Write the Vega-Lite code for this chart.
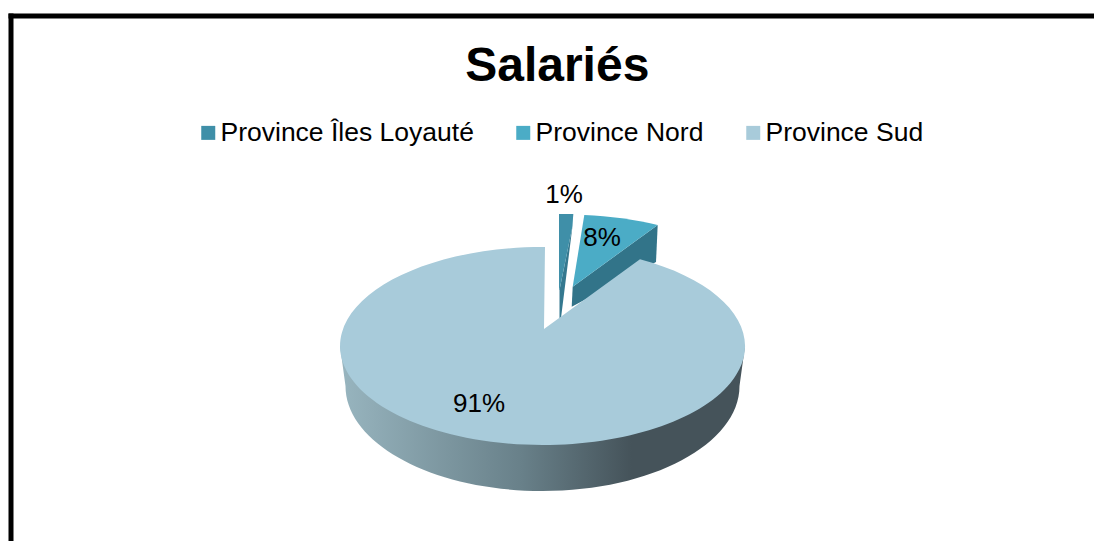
{
  "$schema": "https://vega.github.io/schema/vega-lite/v6.json",
  "width": 1083.5,
  "height": 525.5,
  "autosize": "none",
  "padding": {"left": 10.5, "top": 15.5, "right": 0, "bottom": 0},
  "background": "white",
  "view": {"stroke": null},
  "config": {"font": "Liberation Sans"},
  "title": {"text": "Salariés", "fontSize": 48, "fontWeight": "bold", "font": "Liberation Sans", "color": "#000000", "anchor": "middle", "dx": 5, "offset": -75, "frame": "group"},
  "data": {"values": [
    {"province": "Province Îles Loyauté", "share": 0.01},
    {"province": "Province Nord", "share": 0.08},
    {"province": "Province Sud", "share": 0.91}
  ]},
  "encoding": {
    "x": {"datum": 0.491, "type": "quantitative", "scale": {"domain": [0, 1], "nice": false, "zero": false},
      "axis": {"orient": "top", "labels": false, "ticks": false, "grid": false, "title": null, "domainColor": "#000000", "domainWidth": 5, "domainCap": "square"}},
    "y": {"datum": 0.6289, "type": "quantitative", "scale": {"domain": [1, 0], "nice": false, "zero": false},
      "axis": {"orient": "left", "labels": false, "ticks": false, "grid": false, "title": null, "domainColor": "#000000", "domainWidth": 5, "domainCap": "square"}}
  },
  "layer": [
    {
      "mark": {"type": "point", "filled": true, "opacity": 1, "size": 4, "shape": "square"},
      "encoding": {
        "color": {"field": "province", "type": "nominal",
          "scale": {"domain": ["Province Îles Loyauté", "Province Nord", "Province Sud"], "range": ["#3F8FA8", "#4BACC6", "#A8CBDA"]},
          "legend": {"orient": "none", "legendX": 184.5, "legendY": 104, "direction": "horizontal", "columns": 3, "title": null, "symbolType": "square", "symbolSize": 196, "symbolOpacity": 1, "labelFontSize": 26.5, "labelFont": "Liberation Sans", "labelColor": "#000000", "labelOffset": -1, "columnPadding": 36, "labelLimit": 400}}
      }
    },
    {
      "transform": [{"filter": "datum.province === 'Province Îles Loyauté'"}],
      "mark": {"type": "point", "filled": true, "opacity": 1, "size": 4, "color": "#34788F", "shape": "M30 -120 L17 -56 L17 -28 L18.5 -28 Z"}
    },
    {
      "transform": [{"filter": "datum.province === 'Province Îles Loyauté'"}],
      "mark": {"type": "point", "filled": true, "opacity": 1, "size": 4, "color": "#3F8FA8", "shape": "M16.5 -132 L30.8 -132 L30 -120 L17 -56 L16.5 -56 Z"}
    },
    {
      "transform": [{"filter": "datum.province === 'Province Nord'"}],
      "mark": {"type": "point", "filled": true, "opacity": 1, "size": 4, "color": "#327489", "shape": "M30.2 -59.3 L115.2 -121 L113.5 -84 L29.2 -39.3 Z"}
    },
    {
      "transform": [{"filter": "datum.province === 'Province Nord'"}],
      "mark": {"type": "point", "filled": true, "opacity": 1, "size": 4, "color": "#4BACC6", "shape": "M30.2 -59.3 L41.8 -131 A202.5 99 0 0 1 115.2 -121 Z"}
    },
    {
      "transform": [{"filter": "datum.province === 'Province Sud'"}],
      "mark": {"type": "point", "filled": true, "opacity": 1, "size": 4,
        "color": {"gradient": "linear", "x1": 0, "y1": 0, "x2": 1, "y2": 0, "stops": [
          {"offset": 0, "color": "#98B5BF"},
          {"offset": 0.45, "color": "#688089"},
          {"offset": 0.72, "color": "#45535A"},
          {"offset": 1, "color": "#45535A"}
        ]},
        "shape": "M-202.5 0 L-197 40 A197 105 0 0 0 197 40 L202.5 0 Z"}
    },
    {
      "transform": [{"filter": "datum.province === 'Province Sud'"}],
      "mark": {"type": "point", "filled": true, "opacity": 1, "size": 4, "color": "#A8CBDA", "shape": "M1.5 -17 L2.5 -98.98 A202.5 99 0 1 0 97.5 -86.77 Z"}
    },
    {
      "transform": [{"filter": "datum.province === 'Province Îles Loyauté'"}],
      "mark": {"type": "text", "fontSize": 26, "font": "Liberation Sans", "color": "#000000"},
      "encoding": {"text": {"field": "share", "format": ".0%"}, "x": {"datum": 0.5108, "type": "quantitative"}, "y": {"datum": 0.3416, "type": "quantitative"}}
    },
    {
      "transform": [{"filter": "datum.province === 'Province Nord'"}],
      "mark": {"type": "text", "fontSize": 26, "font": "Liberation Sans", "color": "#000000"},
      "encoding": {"text": {"field": "share", "format": ".0%"}, "x": {"datum": 0.5459, "type": "quantitative"}, "y": {"datum": 0.4234, "type": "quantitative"}}
    },
    {
      "transform": [{"filter": "datum.province === 'Province Sud'"}],
      "mark": {"type": "text", "fontSize": 26, "font": "Liberation Sans", "color": "#000000"},
      "encoding": {"text": {"field": "share", "format": ".0%"}, "x": {"datum": 0.4324, "type": "quantitative"}, "y": {"datum": 0.7393, "type": "quantitative"}}
    }
  ]
}
